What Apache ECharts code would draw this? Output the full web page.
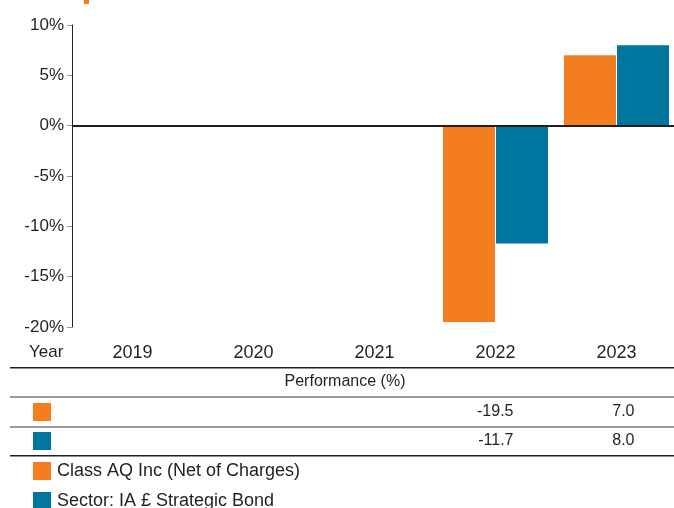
<!DOCTYPE html>
<html>
<head>
<meta charset="utf-8">
<script src="https://cdn.jsdelivr.net/npm/echarts@6/dist/echarts.min.js"></script>
<style>
  html, body { margin: 0; padding: 0; background: #fff; }
  #main { width: 674px; height: 508px; }
</style>
</head>
<body>
<div id="main"></div>
<script>
// 数据
var years = ['2019', '2020', '2021', '2022', '2023'];
var fundName = 'Class AQ Inc (Net of Charges)';
var sectorName = 'Sector: IA \u00a3 Strategic Bond';
var fundValues = [null, null, null, -19.5, 7.0];
var sectorValues = [null, null, null, -11.7, 8.0];
var yTicks = [-20, -15, -10, -5, 0, 5, 10];

var orange = '#F47D20';
var blue = '#00769F';
var textColor = '#231F20';
var font = 'Liberation Sans, Arial, sans-serif';

var myChart = echarts.init(document.getElementById('main'));

function legendItem(name, top) {
    return {
        orient: 'vertical',
        left: 33,
        top: top,
        itemWidth: 18,
        itemHeight: 18,
        itemGap: 0,
        icon: 'rect',
        selectedMode: false,
        padding: 0,
        textStyle: { fontSize: 18, color: textColor, fontFamily: font, padding: [0, 0, 0, 1] },
        data: [name]
    };
}

var option = {
    animation: false,
    textStyle: { fontFamily: font },
    grid: { left: 72, top: 25, width: 605, height: 302, outerBoundsMode: 'none' },
    legend: [legendItem(fundName, 462), legendItem(sectorName, 492)],
    xAxis: {
        type: 'category',
        data: years,
        axisLine: { show: false },
        axisTick: { show: false },
        axisLabel: { fontSize: 18, color: textColor, margin: 17, fontFamily: font }
    },
    yAxis: {
        type: 'value',
        min: yTicks[0],
        max: yTicks[yTicks.length - 1],
        interval: 5,
        splitLine: { show: false },
        axisLine: { show: true, lineStyle: { color: textColor, width: 1 } },
        axisTick: { show: true, length: 5, lineStyle: { color: '#999' } },
        axisLabel: {
            fontSize: 17, color: textColor, margin: 8, fontFamily: font,
            formatter: function (v) { return v + '%'; }
        }
    },
    series: [{
        name: fundName,
        type: 'bar',
        data: fundValues,
        barWidth: 52,
        barGap: '2%',
        itemStyle: { color: orange },
        markLine: {
            silent: true,
            symbol: 'none',
            label: { show: false },
            lineStyle: { color: textColor, width: 2, type: 'solid' },
            data: [{ yAxis: 0 }]
        }
    }, {
        name: sectorName,
        type: 'bar',
        data: sectorValues,
        barWidth: 52,
        barGap: '2%',
        itemStyle: { color: blue }
    }]
};
myChart.setOption(option);

// 表格部分
function buildTable() {
    var els = [];
    els.push({ type: 'rect', shape: { x: 84, y: 0, width: 5, height: 4 }, style: { fill: orange } });
    els.push({ type: 'text', left: 29, top: 344, style: { text: 'Year', fontSize: 17, fill: textColor, fontFamily: font } });
    els.push({ type: 'rect', shape: { x: 10, y: 367, width: 664, height: 1.5 }, style: { fill: textColor } });
    els.push({ type: 'text', x: 345, y: 382, style: { text: 'Performance (%)', fontSize: 16, fill: textColor, fontFamily: font, align: 'center', verticalAlign: 'middle' } });
    els.push({ type: 'rect', shape: { x: 10, y: 396, width: 664, height: 2 }, style: { fill: '#9a9a9a' } });
    els.push({ type: 'rect', shape: { x: 10, y: 426, width: 664, height: 2 }, style: { fill: '#9a9a9a' } });
    els.push({ type: 'rect', shape: { x: 10, y: 455, width: 664, height: 1.5 }, style: { fill: textColor } });

    var rows = [
        { values: fundValues, color: orange, y: 412 },
        { values: sectorValues, color: blue, y: 441 }
    ];
    rows.forEach(function (row) {
        els.push({ type: 'rect', shape: { x: 33, y: row.y - 9, width: 18, height: 18 }, style: { fill: row.color } });
        for (var i = 0; i < years.length; i++) {
            if (row.values[i] == null) continue;
            var px = myChart.convertToPixel({ xAxisIndex: 0 }, years[i]);
            els.push({
                type: 'text', x: px + 18, y: row.y,
                style: { text: row.values[i].toFixed(1), fontSize: 16, fill: textColor, fontFamily: font, align: 'right', verticalAlign: 'middle' }
            });
        }
    });
    myChart.setOption({ graphic: els });
}
buildTable();
</script>
</body>
</html>
